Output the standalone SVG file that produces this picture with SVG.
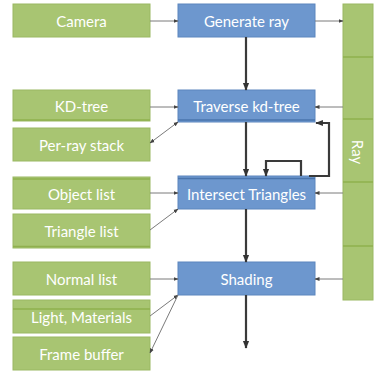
<svg xmlns="http://www.w3.org/2000/svg" width="374" height="372" viewBox="0 0 374 372">
<defs>
<style>
.g{fill:#A8C572;stroke:#9AB862;stroke-width:1}
.b{fill:#6D97CE;stroke:#5C86BE;stroke-width:1}
.t{fill:#fff;font-family:Lato,"Open Sans",sans-serif;font-size:15px;text-anchor:middle;dominant-baseline:central}
.thin{stroke:#7a7a7a;stroke-width:1;fill:none}
.thick{stroke:#3a3a3a;stroke-width:2.2;fill:none}
.sep{stroke:#8FB04E;stroke-width:1.5}
</style>
<marker id="a" viewBox="0 0 10 10" refX="9" refY="5" markerWidth="5" markerHeight="5" orient="auto-start-reverse"><path d="M0,1 L10,5 L0,9 z" fill="#444"/></marker>
<marker id="k" viewBox="0 0 10 10" refX="9" refY="5" markerWidth="3.5" markerHeight="3.5" orient="auto"><path d="M0,1 L10,5 L0,9 z" fill="#333"/></marker>
</defs>
<rect width="374" height="372" fill="#fff"/>
<g id="ray">
<rect class="g" x="343" y="4" width="30" height="296"/>
<line class="sep" x1="343" y1="57" x2="373" y2="57"/>
<line class="sep" x1="343" y1="119" x2="373" y2="119"/>
<line class="sep" x1="343" y1="182" x2="373" y2="182"/>
<line class="sep" x1="343" y1="246" x2="373" y2="246"/>
<text class="t" transform="translate(358,152) rotate(90)">Ray</text>
</g>
<g id="camera"><rect class="g" x="13" y="4" width="137" height="33"/><text class="t" x="81.5" y="20.5">Camera</text></g>
<g id="kdtree"><rect class="g" x="13" y="90" width="137" height="31"/><line class="sep" x1="13" y1="120" x2="150" y2="120"/><text class="t" x="81.5" y="106">KD-tree</text></g>
<g id="perray"><rect class="g" x="13" y="128" width="137" height="33"/><text class="t" x="81.5" y="144.5">Per-ray stack</text></g>
<g id="objlist"><rect class="g" x="13" y="177" width="137" height="32"/><line class="sep" x1="13" y1="179" x2="150" y2="179"/><text class="t" x="81.5" y="193.5">Object list</text></g>
<g id="trilist"><rect class="g" x="13" y="214" width="137" height="34"/><line class="sep" x1="13" y1="246.5" x2="150" y2="246.5"/><text class="t" x="81.5" y="231">Triangle list</text></g>
<g id="normlist"><rect class="g" x="13" y="262" width="137" height="33"/><text class="t" x="81.5" y="278.5">Normal list</text></g>
<g id="light"><rect class="g" x="13" y="300" width="137" height="33"/><line class="sep" x1="13" y1="309" x2="150" y2="309"/><text class="t" x="81.5" y="316.5">Light, Materials</text></g>
<g id="frame"><rect class="g" x="13" y="337" width="137" height="33"/><text class="t" x="81.5" y="354">Frame buffer</text></g>
<g id="genray"><rect class="b" x="178" y="4" width="137" height="33"/><text class="t" x="246.5" y="20.5">Generate ray</text></g>
<g id="traverse"><rect class="b" x="178" y="90" width="137" height="32"/><line x1="178" y1="120" x2="315" y2="120" stroke="#4A74AC" stroke-width="1.5"/><text class="t" x="246.5" y="106">Traverse kd-tree</text></g>
<g id="intersect"><rect class="b" x="178" y="176" width="137" height="33"/><line x1="178" y1="178.5" x2="315" y2="178.5" stroke="#4A74AC" stroke-width="1.5"/><text class="t" x="246.5" y="193.5">Intersect Triangles</text></g>
<g id="shading"><rect class="b" x="178" y="262" width="137" height="33"/><text class="t" x="246.5" y="278.5">Shading</text></g>
<g id="connectors">
<line class="thin" x1="150" y1="21" x2="178" y2="21" marker-end="url(#a)"/>
<line class="thin" x1="315" y1="21" x2="343" y2="21" marker-end="url(#a)"/>
<line class="thin" x1="150" y1="107" x2="178" y2="107" marker-end="url(#a)"/>
<line class="thin" x1="343" y1="107" x2="315" y2="107" marker-end="url(#a)"/>
<line class="thin" x1="150" y1="143" x2="178" y2="122" marker-start="url(#a)" marker-end="url(#a)"/>
<line class="thin" x1="150" y1="193" x2="178" y2="193" marker-end="url(#a)"/>
<line class="thin" x1="343" y1="193" x2="315" y2="193" marker-end="url(#a)"/>
<line class="thin" x1="150" y1="230" x2="178" y2="209" marker-end="url(#a)"/>
<line class="thin" x1="150" y1="279" x2="178" y2="279" marker-end="url(#a)"/>
<line class="thin" x1="343" y1="279" x2="315" y2="279" marker-end="url(#a)"/>
<line class="thin" x1="150" y1="316" x2="178" y2="295" marker-end="url(#a)"/>
<line class="thin" x1="178" y1="295" x2="150" y2="353" marker-end="url(#a)"/>
<line class="thick" x1="246" y1="37" x2="246" y2="90" marker-end="url(#k)"/>
<line class="thick" x1="246" y1="122" x2="246" y2="176" marker-end="url(#k)"/>
<line class="thick" x1="246" y1="209" x2="246" y2="262" marker-end="url(#k)"/>
<line class="thick" x1="246" y1="295" x2="246" y2="348" marker-end="url(#k)"/>
<path class="thick" d="M309,176 L329,176 L329,123 L316,123" marker-end="url(#k)"/>
<path class="thick" d="M301,176 L301,161 L266,161 L266,176" marker-end="url(#k)"/>
</g>
</svg>
